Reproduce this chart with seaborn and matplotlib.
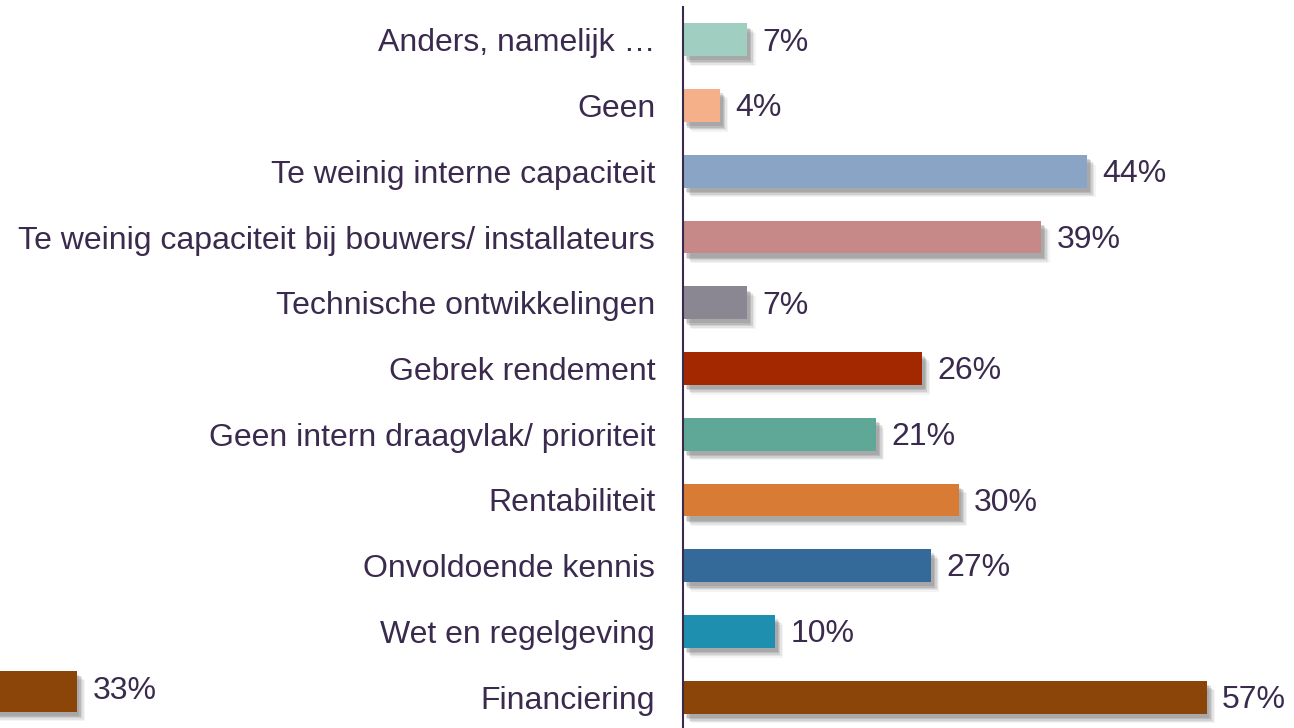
import matplotlib
matplotlib.use('Agg')
import matplotlib.pyplot as plt
import matplotlib.patheffects as pe
import pandas as pd
import seaborn as sns

categories = ['Anders, namelijk …', 'Geen', 'Te weinig interne capaciteit',
              'Te weinig capaciteit bij bouwers/ installateurs',
              'Technische ontwikkelingen', 'Gebrek rendement',
              'Geen intern draagvlak/ prioriteit', 'Rentabiliteit',
              'Onvoldoende kennis', 'Wet en regelgeving', 'Financiering']
values = [7, 4, 44, 39, 7, 26, 21, 30, 27, 10, 57]
colors = ['#a0cfc2', '#f5b08a', '#8aa4c6', '#c78888', '#8b8792', '#a32800',
          '#5fa898', '#d87c35', '#336a9a', '#1f8faf', '#8b4508']

# stray bar at the bottom left (partly outside the picture)
extra_label = ['Financiering']
extra_value = [33]
extra_color = ['#8b4508']

text_color = '#3a2a4d'

sns.set_theme(style='white')
plt.rcParams['font.family'] = ['Liberation Sans', 'DejaVu Sans']

df = pd.DataFrame({'cat': categories, 'val': values})
df_extra = pd.DataFrame({'cat': extra_label, 'val': extra_value})

fig = plt.figure(figsize=(12.94, 7.28), dpi=100)
ax = fig.add_axes([683 / 1294, -2 / 728, 611 / 1294, 723 / 728])

sns.barplot(data=df, y='cat', x='val', hue='cat', palette=colors, orient='h',
            width=0.5, legend=False, ax=ax, saturation=1, linewidth=0)

# soft drop shadow made of a few offset layers
shadow = [pe.SimplePatchShadow(offset=(o, -o - 1), shadow_rgbFace='#777777', alpha=a)
          for o, a in [(6, 0.08), (5, 0.12), (4, 0.18), (3, 0.25), (2, 0.25)]]
shadow.append(pe.Normal())
for p in ax.patches:
    p.set_path_effects(shadow)

for c in ax.containers:
    for t in ax.bar_label(c, fmt='%d%%', padding=11, fontsize=23, color=text_color):
        t.xyann = (11, -2)

ax.set_xlim(0, 66.5)
ax.set_ylim(10.5, -0.5)
ax.set_xlabel('')
ax.set_ylabel('')
ax.set_xticks([])
ax.tick_params(axis='y', length=0, pad=20, labelsize=23, labelcolor=text_color)
for s in ['top', 'right', 'bottom']:
    ax.spines[s].set_visible(False)
ax.spines['left'].set_color(text_color)
ax.spines['left'].set_linewidth(1.5)
ax.patch.set_alpha(0)

# second axes for the stray 33% bar, same scale, mostly off the left edge
ax2 = fig.add_axes([-227 / 1294, -4 / 728, 368 / 1294, 82 / 728])
sns.barplot(data=df_extra, y='cat', x='val', hue='cat', palette=extra_color,
            orient='h', width=0.5, legend=False, ax=ax2, saturation=1, linewidth=0)
for p in ax2.patches:
    p.set_path_effects(shadow)
for c in ax2.containers:
    ax2.bar_label(c, fmt='%d%%', padding=12, fontsize=23, color=text_color)
ax2.set_xlim(0, 40)
ax2.set_ylim(0.5, -0.5)
ax2.axis('off')

fig.savefig('out.png', dpi=100)
